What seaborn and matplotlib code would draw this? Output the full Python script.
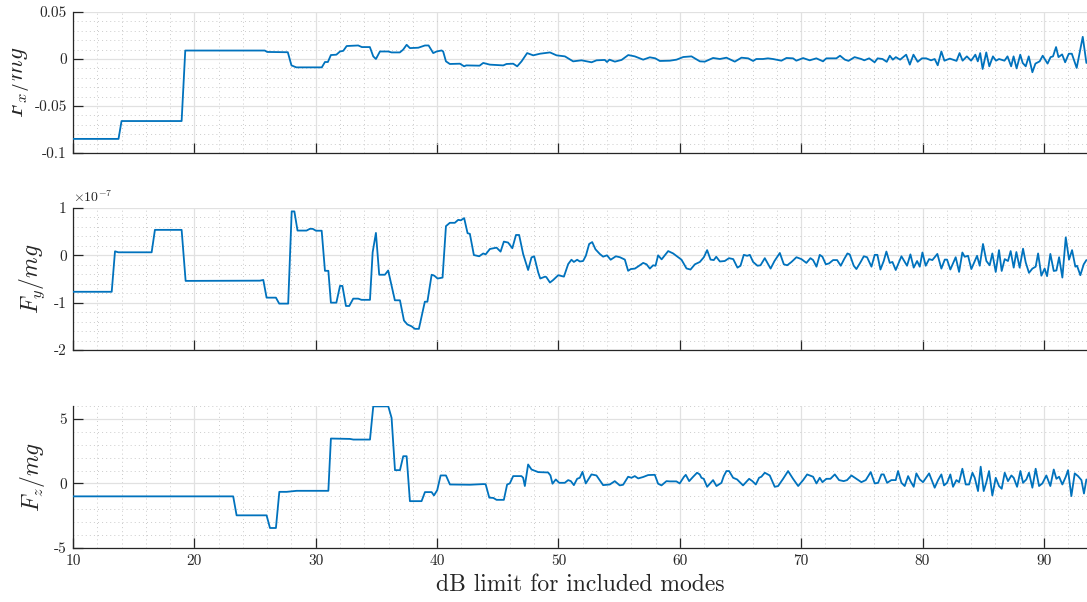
import numpy as np
import pandas as pd
import matplotlib
matplotlib.use("Agg")
import matplotlib.pyplot as plt
import seaborn as sns
from matplotlib.ticker import MultipleLocator
from matplotlib.transforms import Bbox, TransformedBbox

# ---------------- data ----------------
FX_DB = [10, 13.75, 14.0, 18.95, 19.25, 25.8, 26.0, 27.7, 28.0, 28.4, 30.5, 30.76, 31.0, 31.25, 31.7, 32.0, 32.27,
         32.55, 33.5, 33.8, 34.46, 34.74, 34.96, 35.29, 35.97, 36.25, 36.93, 37.2, 37.49, 37.76, 38.45, 39.0, 39.3,
         39.68, 39.96, 40.37, 40.5, 40.73, 41.05, 41.88, 42.23, 42.4, 43.5, 43.8, 44.35, 45.45, 45.72, 46.27, 46.6,
         46.96, 47.42, 47.92, 48.47, 49.3, 49.84, 50.53, 51.21, 51.9, 52.73, 53.14, 53.82, 54.0, 54.2, 54.65, 55.2,
         55.75, 56.29, 56.98, 57.53, 57.98, 58.35, 59.18, 59.73, 60.28, 60.96, 61.65, 62.06, 62.74, 63.3, 63.84,
         64.53, 65.08, 65.63, 66.04, 66.3, 66.85, 67.26, 67.67, 68.37, 68.79, 69.33, 69.6, 70.16, 70.7, 71.25, 71.8,
         72.07, 72.9, 73.2, 73.6, 73.9, 74.4, 74.95, 75.2, 75.6, 76.05, 76.3, 76.7, 77.05, 77.3, 77.55, 77.8, 78.15,
         78.65, 78.95, 79.25, 79.6, 79.95, 80.3, 80.7, 81.0, 81.25, 81.55, 81.8, 82.25, 82.8, 83.05, 83.3, 83.65,
         84.0, 84.35, 84.55, 84.75, 84.95, 85.25, 85.5, 85.8, 86.05, 86.3, 86.75, 87.0, 87.3, 87.5, 87.75, 88.05,
         88.25, 88.5, 88.75, 89.05, 89.3, 89.65, 89.9, 90.3, 90.55, 90.75, 91.0, 91.2, 91.5, 91.75, 92.05, 92.3,
         92.7, 93.2, 93.5]
FX = [-0.085, -0.085, -0.066, -0.066, 0.009, 0.009, 0.0075, 0.0072, -0.0068, -0.0089, -0.0089, -0.0032, -0.0032,
      0.0042, 0.0046, 0.008, 0.0087, 0.0138, 0.0144, 0.0127, 0.0127, 0.0028, 0.0, 0.008, 0.008, 0.007, 0.007,
      0.0099, 0.0151, 0.0116, 0.012, 0.0144, 0.0144, 0.0063, 0.008, 0.0091, 0.008, -0.0025, -0.0053, -0.005,
      -0.0078, -0.0068, -0.0071, -0.0042, -0.006, -0.0068, -0.0053, -0.005, -0.0078, -0.0025, 0.0063, 0.0039,
      0.0056, 0.007, 0.0039, 0.0028, -0.0025, -0.0014, -0.0035, -0.0014, -0.001, -0.0032, -0.0007, -0.0028,
      -0.001, 0.0042, 0.0028, -0.0007, 0.0018, 0.0007, -0.0021, -0.0018, -0.0007, 0.0021, 0.0028, -0.0025,
      -0.0028, 0.0011, 0.0, 0.0014, -0.0028, 0.0014, 0.0007, -0.0021, 0.0, 0.0, 0.0007, 0.0, -0.0018, 0.0011,
      0.0007, -0.0018, 0.001, -0.0014, 0.0007, -0.0025, 0.0007, 0.0007, 0.0035, -0.0007, -0.002, 0.002, 0.0,
      -0.0014, 0.0007, -0.0035, 0.0007, 0.0, -0.003, 0.0035, -0.0007, 0.002, -0.0007, 0.0046, -0.006, 0.0046,
      -0.003, 0.0007, 0.0007, -0.0014, 0.0, -0.0067, 0.008, -0.0018, 0.0004, -0.002, 0.0063, -0.0018, 0.0028,
      -0.0018, 0.0046, -0.0025, 0.0063, -0.0106, 0.007, -0.0078, 0.0028, -0.0018, 0.0, -0.0018, 0.0028, -0.0078,
      0.0028, -0.01, 0.0046, -0.0042, -0.0078, 0.0028, -0.0141, -0.0049, -0.0025, 0.0035, -0.0049, 0.002, 0.0028,
      0.0127, 0.002, 0.0049, -0.0035, 0.0056, 0.0056, -0.0095, 0.0236, -0.0042]

FY_DB = [10, 13.19, 13.46, 13.73, 16.48, 16.75, 18.95, 19.28, 25.4, 25.68, 25.95, 26.72, 26.99, 27.73, 28.02, 28.24,
         28.5, 29.24, 29.52, 29.75, 30.02, 30.49, 30.76, 31.04, 31.25, 31.7, 32.0, 32.2, 32.49, 32.76, 33.09, 33.5,
         33.77, 34.47, 34.69, 34.96, 35.23, 35.7, 35.97, 36.52, 36.94, 37.27, 37.55, 37.9, 38.17, 38.5, 38.99, 39.2,
         39.55, 39.77, 40.04, 40.45, 40.73, 41.05, 41.46, 41.74, 41.96, 42.23, 42.51, 42.7, 43.03, 43.47, 43.8, 44.0,
         44.35, 44.9, 45.23, 45.5, 45.85, 46.2, 46.5, 46.76, 47.09, 47.5, 47.78, 48.0, 48.33, 48.5, 48.9, 49.0, 49.3,
         49.57, 49.98, 50.45, 50.8, 51.07, 51.27, 51.54, 51.76, 52.03, 52.26, 52.53, 52.78, 53.05, 53.41, 53.68, 54.0,
         54.3, 54.73, 55.06, 55.47, 55.74, 55.96, 56.3, 56.65, 56.98, 57.26, 57.53, 57.8, 58.0, 58.21, 58.5, 59.04,
         59.45, 59.86, 60.14, 60.55, 60.88, 61.24, 61.65, 61.98, 62.25, 62.53, 62.8, 63.0, 63.3, 63.7, 64.05, 64.4,
         64.75, 65.0, 65.27, 65.55, 65.77, 66.04, 66.4, 66.65, 67.0, 67.48, 67.8, 68.24, 68.57, 68.85, 69.2, 69.61,
         70.02, 70.43, 70.76, 70.98, 71.26, 71.53, 71.75, 72.03, 72.3, 72.63, 72.96, 73.26, 73.54, 73.81, 74.0,
         74.33, 74.55, 74.88, 75.16, 75.43, 75.79, 76.06, 76.28, 76.53, 76.8, 77.02, 77.3, 77.52, 77.79, 78.26,
         78.72, 79.0, 79.27, 79.55, 79.77, 79.99, 80.26, 80.54, 80.81, 81.22, 81.55, 81.83, 82.02, 82.29, 82.73,
         83.01, 83.28, 83.47, 83.75, 84.02, 84.49, 84.71, 84.98, 85.26, 85.53, 85.75, 86.03, 86.3, 86.52, 86.77,
         87.04, 87.26, 87.51, 87.73, 88.0, 88.28, 88.5, 88.77, 89.05, 89.32, 89.52, 89.79, 90.06, 90.26, 90.53,
         90.81, 91.03, 91.25, 91.52, 91.8, 92.07, 92.32, 92.59, 92.73, 93.0, 93.28, 93.5]
# values in units of 1e-7
FY_E7 = [-0.77, -0.77, 0.085, 0.064, 0.064, 0.538, 0.538, -0.54, -0.535, -0.52, -0.894, -0.894, -1.02, -1.02,
         0.928, 0.928, 0.523, 0.523, 0.56, 0.56, 0.52, 0.52, -0.327, -0.327, -1.0, -1.0, -0.646, -0.646, -1.07,
         -1.07, -0.915, -0.915, -0.94, -0.94, 0.064, 0.474, -0.41, -0.41, -0.32, -0.95, -0.95, -1.377, -1.46, -1.5,
         -1.553, -1.553, -0.98, -0.98, -0.41, -0.43, -0.49, -0.47, 0.617, 0.687, 0.687, 0.75, 0.74, 0.787, 0.468,
         0.454, 0.006, -0.02, 0.04, 0.02, 0.134, 0.163, 0.078, 0.29, 0.27, 0.15, 0.43, 0.43, 0.028, -0.31, -0.043,
         -0.021, -0.36, -0.49, -0.45, -0.46, -0.575, -0.52, -0.42, -0.45, -0.185, -0.093, -0.14, -0.093, -0.13,
         -0.12, -0.007, 0.24, 0.28, 0.127, 0.028, -0.028, 0.0, -0.093, -0.02, -0.04, -0.09, -0.327, -0.29, -0.28,
         -0.22, -0.16, -0.19, -0.28, -0.21, -0.22, 0.0, -0.085, 0.09, 0.04, -0.04, -0.093, -0.277, -0.3, -0.19,
         -0.14, -0.04, 0.11, -0.09, -0.1, -0.03, -0.13, -0.12, -0.06, -0.08, -0.26, -0.22, 0.01, -0.01, 0.01, -0.14,
         -0.22, -0.21, -0.06, -0.28, -0.12, 0.05, -0.19, -0.21, -0.14, -0.04, -0.08, -0.16, -0.06, -0.1, -0.24,
         0.01, -0.03, -0.19, -0.17, -0.1, -0.1, -0.22, -0.08, 0.04, 0.02, -0.22, -0.29, -0.15, -0.02, -0.04, -0.24,
         0.01, 0.01, -0.3, -0.12, 0.08, -0.16, -0.14, -0.31, -0.02, -0.22, 0.02, -0.26, -0.12, -0.24, 0.06, -0.22,
         -0.08, -0.1, 0.03, -0.28, -0.09, -0.09, -0.3, -0.04, -0.35, 0.06, -0.03, -0.01, -0.29, -0.01, -0.22, 0.24,
         -0.12, -0.21, 0.04, -0.35, 0.11, -0.33, -0.08, -0.12, 0.09, -0.26, 0.07, -0.26, 0.14, -0.15, -0.37, -0.28,
         -0.24, 0.04, -0.43, -0.28, -0.44, 0.03, -0.33, -0.32, -0.04, -0.47, 0.38, -0.09, 0.11, -0.24, -0.22, -0.42,
         -0.19, -0.1]

FZ_DB = [10, 23.2, 23.48, 25.95, 26.23, 26.72, 27.0, 27.6, 28.43, 31.04, 31.25, 32.82, 33.1, 34.47, 34.74, 35.98,
         36.25, 36.53, 36.94, 37.21, 37.49, 37.76, 38.72, 39.0, 39.55, 39.74, 40.01, 40.29, 40.73, 41.06, 42.7, 43.8,
         44.0, 44.3, 44.63, 44.9, 45.5, 45.77, 45.99, 46.27, 46.95, 47.09, 47.23, 47.5, 47.78, 48.33, 49.15, 49.34,
         49.51, 49.78, 50.06, 50.52, 50.8, 51.02, 51.27, 51.54, 51.76, 51.98, 52.25, 52.72, 53.13, 53.68, 54.23,
         54.64, 55.05, 55.33, 55.74, 56.02, 56.29, 56.57, 56.98, 57.39, 57.94, 58.21, 58.49, 58.9, 59.17, 59.72,
         59.99, 60.33, 60.49, 60.77, 61.1, 61.42, 61.64, 61.78, 61.97, 62.25, 62.74, 63.02, 63.43, 63.62, 63.84,
         64.06, 64.39, 64.72, 65.21, 65.71, 65.98, 66.26, 66.53, 66.72, 67.0, 67.41, 67.82, 68.1, 68.51, 68.92,
         69.33, 69.75, 70.16, 70.49, 70.98, 71.26, 71.53, 71.75, 72.08, 72.41, 72.77, 73.12, 73.5, 73.78, 74.14,
         74.55, 74.96, 75.32, 75.73, 76.06, 76.34, 76.61, 76.8, 77.08, 77.43, 77.79, 77.98, 78.26, 78.53, 78.81,
         79.0, 79.27, 79.49, 79.77, 80.04, 80.54, 81.0, 81.28, 81.55, 81.77, 82.02, 82.29, 82.51, 82.79, 83.01,
         83.28, 83.56, 83.83, 84.11, 84.3, 84.57, 84.79, 85.04, 85.26, 85.48, 85.75, 86.03, 86.3, 86.52, 86.77,
         87.04, 87.32, 87.51, 87.79, 88.06, 88.28, 88.55, 88.77, 89.05, 89.32, 89.6, 89.87, 90.2, 90.53, 90.81,
         91.03, 91.25, 91.52, 91.8, 91.99, 92.26, 92.54, 92.81, 93.09, 93.3, 93.5]
FZ = [-1.0, -1.0, -2.47, -2.47, -3.45, -3.45, -0.65, -0.65, -0.57, -0.57, 3.48, 3.45, 3.4, 3.4, 5.97, 5.97, 5.08,
      1.03, 1.03, 2.11, 2.11, -1.37, -1.37, -0.67, -0.67, -0.93, -0.52, 0.62, 0.62, -0.08, -0.1, -0.05, -0.06,
      -1.1, -1.12, -1.27, -1.27, -0.08, 0.0, 0.57, 0.57, 0.44, -0.2, 1.47, 1.08, 0.88, 0.85, 0.62, -0.02, 0.31,
      0.05, 0.05, 0.26, 0.18, -0.13, 0.36, 0.44, 0.9, 0.0, 0.7, 0.62, -0.13, -0.08, 0.18, -0.15, -0.1, 0.52, 0.44,
      0.57, 0.39, 0.5, 0.65, 0.67, -0.02, -0.15, 0.18, 0.16, 0.16, 0.0, 0.5, 0.67, 0.18, 0.52, 0.83, 0.7, 0.44,
      0.36, -0.26, 0.26, -0.2, 0.05, 0.57, 0.96, 0.96, 0.44, 0.31, -0.15, 0.36, 0.18, -0.08, 0.44, 0.52, 0.83,
      0.62, -0.26, -0.2, 0.36, 0.96, 0.36, -0.2, 0.26, 0.7, 0.52, 0.0, 0.44, 0.1, 0.36, 0.36, 0.7, 0.26, 0.18,
      0.26, 0.62, 0.36, 0.1, 0.26, 0.88, 0.0, 0.05, 0.7, 0.7, 0.05, 0.26, 0.26, 0.96, 0.05, -0.2, 0.57, 0.18,
      -0.26, 0.78, 0.31, 0.1, 0.78, -0.33, 0.26, 0.7, -0.15, 0.05, 0.7, -0.26, 0.26, 0.1, 1.14, -0.08, -0.08,
      0.83, 0.44, -0.59, 1.3, -0.59, 0.1, 0.96, -0.93, 0.44, -0.2, -0.41, 0.83, 0.18, 0.62, 0.44, -0.26, 0.96,
      0.05, 0.31, 0.83, -0.33, 1.14, -0.2, 0.0, 0.62, -0.2, 1.08, 0.36, 0.52, -0.08, 0.52, 1.03, -0.98, 0.78,
      0.57, 0.26, -0.78, 0.31]

X_TICKS = [10, 20, 30, 40, 50, 60, 70, 80, 90]
X_TICK_LABELS = ["10", "20", "30", "40", "50", "60", "70", "80", "90"]
FX_TICKS = [-0.1, -0.05, 0.0, 0.05]
FX_TICK_LABELS = ["-0.1", "-0.05", "0", "0.05"]
FY_TICKS_E7 = [-2, -1, 0, 1]
FY_TICK_LABELS = ["-2", "-1", "0", "1"]
FZ_TICKS = [-5, 0, 5]
FZ_TICK_LABELS = ["-5", "0", "5"]

Y_LABELS = [r"$F_x/mg$", r"$F_y/mg$", r"$F_z/mg$"]
X_LABEL = "dB limit for included modes"

# ---------------- style ----------------
sns.set_theme(style="white")
plt.rcParams.update({
    "font.family": "cmr10",
    "mathtext.fontset": "cm",
    "axes.unicode_minus": False,
    "axes.formatter.use_mathtext": True,
})

W, H = 1087, 602
BLUE = "#0072BD"
DARK = "#262626"

fig = plt.figure(figsize=(W / 100, H / 100), dpi=100)

panels = [
    dict(x=FX_DB, y=np.array(FX), top=12, bot=153, ylim=(-0.1, 0.05), ticks=FX_TICKS,
         labels=FX_TICK_LABELS, minor=0.01, lx=-0.041),
    dict(x=FY_DB, y=np.array(FY_E7) * 1e-7, top=208, bot=350, ylim=(-2e-7, 1e-7),
         ticks=[t * 1e-7 for t in FY_TICKS_E7], labels=FY_TICK_LABELS, minor=0.2e-7, lx=-0.026),
    dict(x=FZ_DB, y=np.array(FZ), top=406, bot=548, ylim=(-5, 6), ticks=FZ_TICKS,
         labels=FZ_TICK_LABELS, minor=1, lx=-0.026),
]

axes = []
for i, p in enumerate(panels):
    ax = fig.add_axes([73 / W, 1 - p["bot"] / H, (W - 73) / W, (p["bot"] - p["top"]) / H])
    df = pd.DataFrame({"db": p["x"], "val": p["y"]})
    sns.lineplot(data=df, x="db", y="val", ax=ax, color=BLUE, linewidth=1.3,
                 estimator=None, sort=False, zorder=3)
    ax.set_xlim(10, 93.55)
    ax.set_ylim(*p["ylim"])
    ax.set_xticks(X_TICKS)
    if i == 2:
        ax.set_xticklabels(X_TICK_LABELS)
    else:
        ax.set_xticklabels([])
    ax.set_yticks(p["ticks"])
    ax.set_yticklabels(p["labels"])
    ax.xaxis.set_minor_locator(MultipleLocator(2))
    ax.yaxis.set_minor_locator(MultipleLocator(p["minor"]))
    ax.set_axisbelow(True)
    ax.grid(True, which="major", color="#e1e1e1", linewidth=0.9, linestyle="-")
    ax.grid(True, which="minor", color="#cbcbcb", linewidth=0.7, linestyle=(0, (1, 3.2)))
    for s in ("top", "right"):
        ax.spines[s].set_visible(False)
    for s in ("left", "bottom"):
        ax.spines[s].set_color(DARK)
        ax.spines[s].set_linewidth(0.9)
    ax.tick_params(which="major", direction="in", length=7.5, width=0.9, color=DARK,
                   labelsize=11, labelcolor=DARK, pad=4.5, top=False, right=False,
                   bottom=True, left=True)
    ax.tick_params(which="minor", length=0)
    ax.set_xlabel("")
    ax.set_ylabel(Y_LABELS[i], fontsize=17, color=DARK)
    ax.yaxis.set_label_coords(p["lx"], 0.5)
    axes.append(ax)

# the top label is cut off by the left edge in the reference
lab = axes[0].yaxis.label
lab.set_clip_on(True)
lab.set_clip_box(TransformedBbox(Bbox.from_extents(12 / W, 0, 1, 1), fig.transFigure))

axes[1].text(0.0, 1.02, r"$\times10^{-7}$", transform=axes[1].transAxes, fontsize=10,
             ha="left", va="bottom", color=DARK)

axes[2].set_xlabel(X_LABEL, fontsize=17, color=DARK)
axes[2].xaxis.set_label_coords(0.5, -0.185)

fig.savefig("out.png", dpi=100)
